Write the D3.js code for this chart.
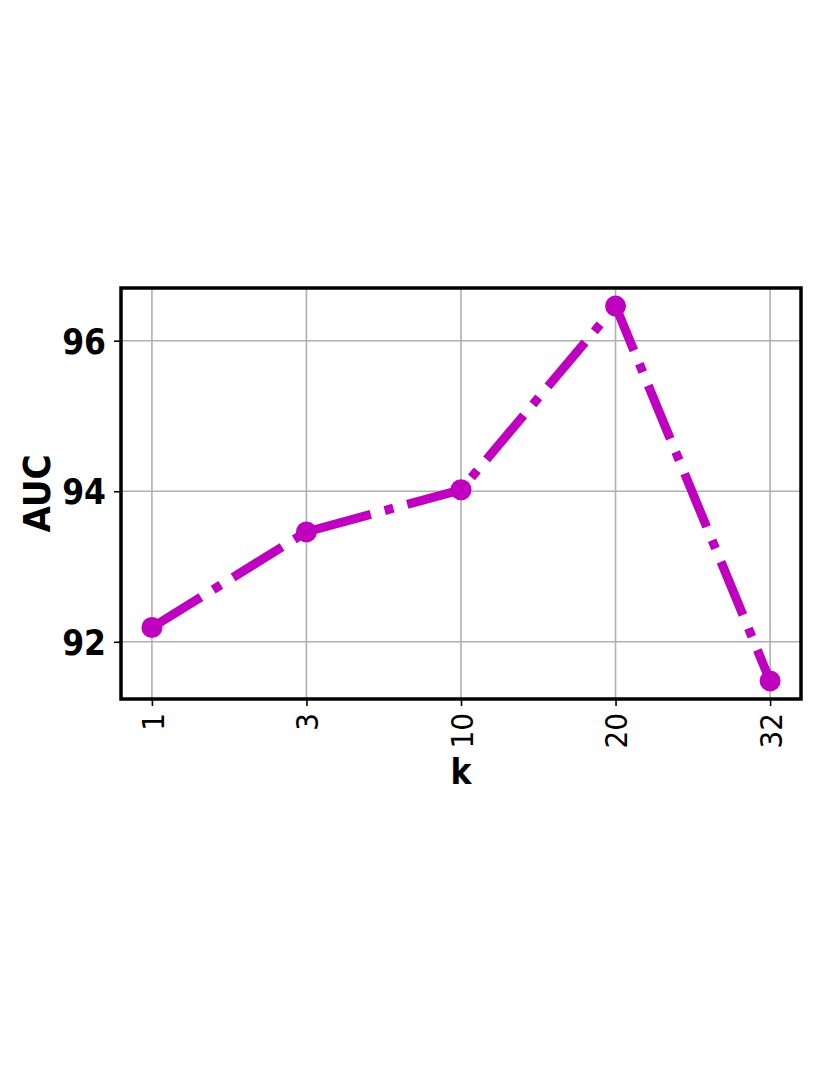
<!DOCTYPE html>
<html>
<head>
<meta charset="utf-8">
<script src="https://cdn.jsdelivr.net/npm/d3@7"></script>
<style>
  html, body { margin: 0; padding: 0; background: #fff; }
  svg text { font-family: "DejaVu Sans Condensed", "DejaVu Sans", sans-serif; font-stretch: condensed; }
</style>
</head>
<body>
<script>
// ---- data ----
const categories = ["1", "3", "10", "20", "32"];
const aucValues = [92.19, 93.46, 94.02, 96.46, 91.48];
const yTicks = [92, 94, 96];
const xLabel = "k";
const yLabel = "AUC";

// ---- layout ----
const W = 830, H = 1075;
const plot = { left: 121, right: 801, top: 288, bottom: 699 };
const color = "#bf00bf";
const lw = 9;

const svg = d3.select("body").append("svg").attr("width", W).attr("height", H);

const x = d3.scalePoint().domain(categories).range([plot.left, plot.right]).padding(0.2);
const y = d3.scaleLinear().domain([91.24, 96.70]).range([plot.bottom, plot.top]);

// grid
const grid = svg.append("g");
grid.selectAll("line.vg").data(categories).join("line")
  .attr("x1", d => x(d)).attr("x2", d => x(d))
  .attr("y1", plot.top).attr("y2", plot.bottom)
  .attr("stroke", "#b0b0b0").attr("stroke-width", 1.6);
grid.selectAll("line.hg").data(yTicks).join("line")
  .attr("x1", plot.left).attr("x2", plot.right)
  .attr("y1", d => y(d)).attr("y2", d => y(d))
  .attr("stroke", "#b0b0b0").attr("stroke-width", 1.6);

// axes
const yAxis = svg.append("g").attr("transform", `translate(${plot.left},0)`)
  .call(d3.axisLeft(y).tickValues(yTicks).tickFormat(d3.format("d")).tickSize(7).tickPadding(8));
yAxis.select(".domain").remove();
yAxis.selectAll(".tick line").attr("stroke", "#000").attr("stroke-width", 1.6);
yAxis.selectAll(".tick text").attr("font-size", 35).attr("font-weight", "bold").attr("fill", "#000").attr("dy", "0.36em");

const xAxis = svg.append("g").attr("transform", `translate(0,${plot.bottom})`)
  .call(d3.axisBottom(x).tickSize(7).tickPadding(8));
xAxis.select(".domain").remove();
xAxis.selectAll(".tick line").attr("stroke", "#000").attr("stroke-width", 1.6);
xAxis.selectAll(".tick text")
  .attr("font-size", 31).attr("fill", "#000")
  .attr("text-anchor", "end")
  .attr("transform", "translate(0,14) rotate(-90)")
  .attr("x", 0).attr("y", 0).attr("dy", "0.36em");

// frame
svg.append("rect")
  .attr("x", plot.left).attr("y", plot.top)
  .attr("width", plot.right - plot.left).attr("height", plot.bottom - plot.top)
  .attr("fill", "none").attr("stroke", "#000").attr("stroke-width", 3.5);

// line
const line = d3.line().x((d, i) => x(categories[i])).y(d => y(d));
svg.append("path").datum(aucValues)
  .attr("d", line)
  .attr("fill", "none").attr("stroke", color).attr("stroke-width", lw)
  .attr("stroke-dasharray", [6.4 * lw, 1.6 * lw, 1 * lw, 1.6 * lw].join(","));

// markers
svg.selectAll("circle.pt").data(aucValues).join("circle")
  .attr("cx", (d, i) => x(categories[i])).attr("cy", d => y(d))
  .attr("r", 10.5).attr("fill", color);

// labels
svg.append("text")
  .attr("x", (plot.left + plot.right) / 2).attr("y", 784)
  .attr("text-anchor", "middle").attr("font-size", 35).attr("font-weight", "bold")
  .text(xLabel);
svg.append("text")
  .attr("transform", `translate(50,${(plot.top + plot.bottom) / 2}) rotate(-90)`)
  .attr("text-anchor", "middle").attr("font-size", 38).attr("font-weight", "bold")
  .text(yLabel);
</script>
</body>
</html>
